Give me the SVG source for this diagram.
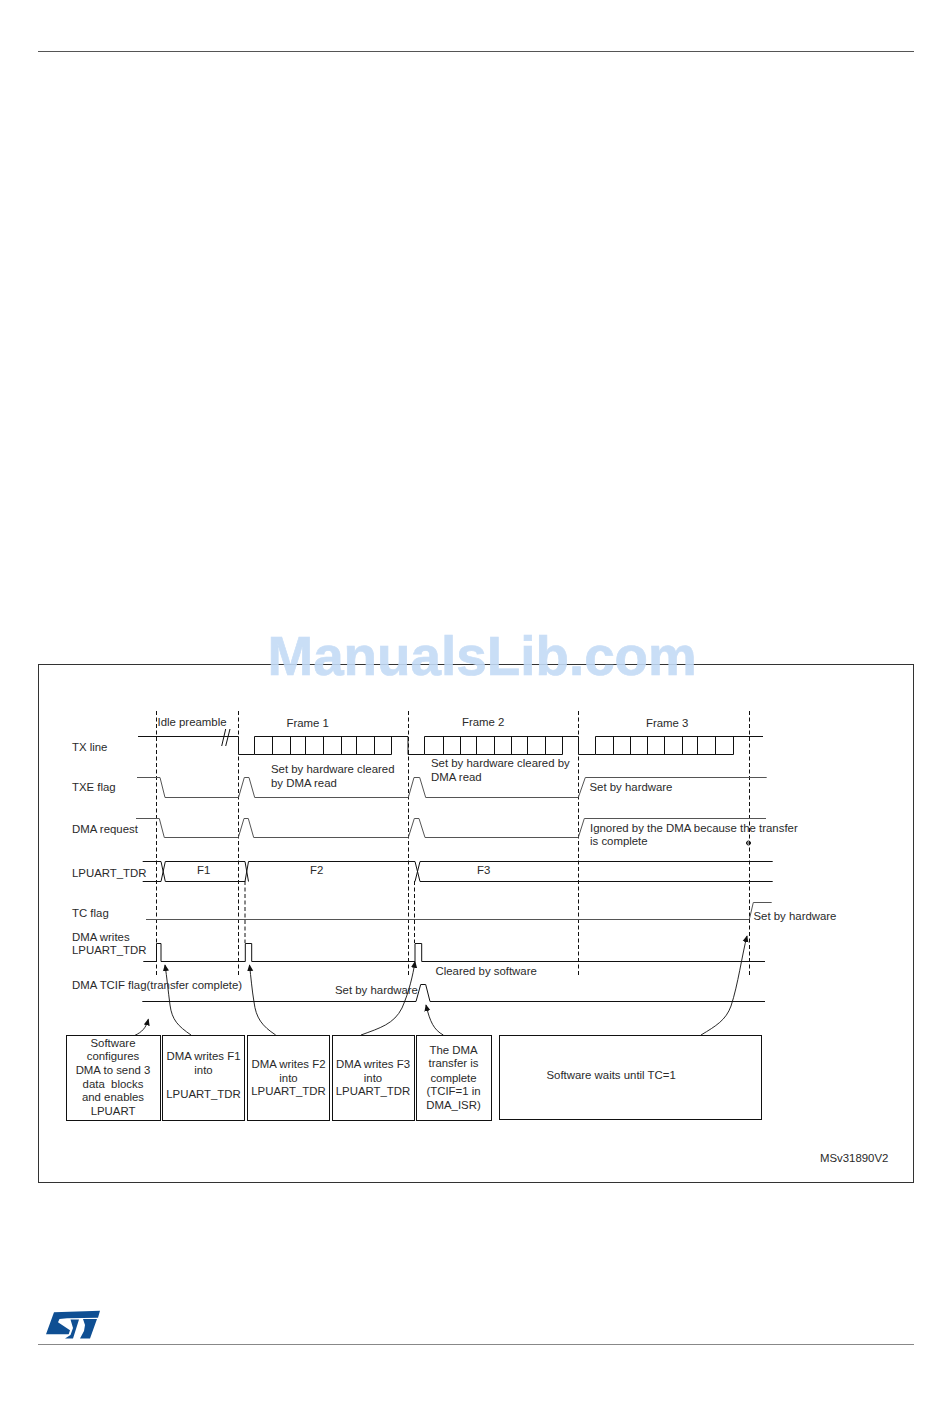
<svg xmlns="http://www.w3.org/2000/svg" width="950" height="1420" viewBox="0 0 950 1420">
<style>
text{font-family:"Liberation Sans",Arial,sans-serif;font-size:11.4px;fill:#2a2a2a}
.m{text-anchor:middle}
.box{fill:#fff;stroke:#111;stroke-width:1}
.sig{fill:none;stroke:#111;stroke-width:1}
.gray{fill:none;stroke:#555;stroke-width:1}
.dash{fill:none;stroke:#111;stroke-width:1;stroke-dasharray:4 2.5}
.arrow{fill:none;stroke:#111;stroke-width:.9;marker-end:url(#a)}
</style>
<defs><marker id="a" viewBox="0 0 8 8" refX="7" refY="4" markerWidth="7" markerHeight="7" orient="auto" markerUnits="userSpaceOnUse"><path d="M0,0.5 L8,4 L0,7.500 Z" fill="#111"/></marker></defs>
<rect width="950" height="1420" fill="#fff"/>
<path d="M38,51.500H914" stroke="#555" fill="none"/>
<path d="M38,1344.500H914" stroke="#888" fill="none"/>
<rect x="38.500" y="664.500" width="875" height="518" fill="none" stroke="#333"/>
<text x="267.500" y="675" style="font-size:54.800px;font-weight:bold;fill:#c4dbf6;stroke:#c4dbf6;stroke-width:.7;opacity:.9">ManualsLib.com</text>
<g id="logo" fill="#0f4f93">
<path d="M54,1312.300 L100,1310.700 L98,1317.700 L67,1318.300 L59.500,1319 L58,1322.300 L70,1330.300 L68.700,1334.300 L46,1334.300 Z"/>
<path d="M70.500,1319.500 L79,1319.500 L73,1338.500 L65,1338.500 L70.500,1335 L73,1328 Z"/>
<path d="M83,1319 L97,1319 L90,1338.500 L80,1338.500 L84,1331 L85,1325 Z"/>
</g>
<g id="connectors">
<g class="dashes">
<path class="dash" d="M156.500,711V975"/>
<path class="dash" d="M238.500,711V975"/>
<path class="dash" d="M245,881V943"/>
<path class="dash" d="M408.500,711V975"/>
<path class="dash" d="M414.500,881V943"/>
<path class="dash" d="M578.500,711V975"/>
<path class="dash" d="M749.500,711V975"/>
</g>
<path class="sig" d="M138,736.500H238.500V754.500H254.500V736.500H408V754.500H424.500V736.500H578.500V754.500H595.500V736.500H763"/>
<path class="sig" d="M254.500,754.500H391.500V736.500M272.500,736.500V754.500M290.500,736.500V754.500M305.500,736.500V754.500M323.500,736.500V754.500M341.500,736.500V754.500M356.500,736.500V754.500M374.500,736.500V754.500"/>
<path class="sig" d="M424.500,754.500H562.500V736.500M443.500,736.500V754.500M460.500,736.500V754.500M476.500,736.500V754.500M494.500,736.500V754.500M511.500,736.500V754.500M527.500,736.500V754.500M545.500,736.500V754.500"/>
<path class="sig" d="M595.500,754.500H733.500V736.500M613.500,736.500V754.500M630.500,736.500V754.500M647.500,736.500V754.500M664.500,736.500V754.500M682.500,736.500V754.500M697.500,736.500V754.500M715.500,736.500V754.500"/>
<path class="sig" d="M221.700,746L225.700,729M225.700,746L230,729"/>
<path class="gray" d="M137,777.500H160L165,797.500H238.500L244.300,777.500H249L254.700,797.500H408.300L414,777.500H419.700L425.700,797.500H578.300L585.300,777.500H766.700"/>
<path class="gray" d="M136,818.500H159.300L164.300,837.500H238.300L244,818.500H248.300L253.700,837.500H408.300L414.300,818.500H419L425,837.500H578.300L584.300,818.500H766"/>
<path class="sig" d="M142.700,861.500H161L165.300,881.500M142.700,881.500H161L165.300,861.500H245L248.500,881.500M165.300,881.500H245L248.500,861.500H415L420,881.500H772.700M415,881.500L420,861.500H772.700"/>
<path class="gray" d="M146,919.500H749.300L753.300,902.500H771.700"/>
<path class="sig" d="M143.300,961.500H156.500V943.500H161V961.500H245.300V943.500H251.700V961.500H415V943.500H421.700V961.500H765"/>
<path class="sig" d="M142.300,1001.500H416L420.700,984.500H425.700L430,1001.500H765"/>
<circle cx="748.500" cy="843" r="2" fill="none" stroke="#111"/>
<path class="sig" d="M746,843H751"/>
<path class="arrow" d="M135,1035.300C142,1032 146,1028 148.300,1019.300"/>
<path class="arrow" d="M191,1035C178,1026 172,1020 170,1005C168,990 167,978 165,965"/>
<path class="arrow" d="M275.700,1035C262,1026 256,1018 254,1002C252,990 251,978 249.500,965"/>
<path class="arrow" d="M361,1035C380,1028 394,1024 402,1008C409,992 413,975 415,961.700"/>
<path class="arrow" d="M443.300,1035C434,1030 430,1022 426,1005"/>
<path class="arrow" d="M701,1035C716,1026 726,1020 731,1006C738,985 742,955 747,936"/>
</g>
<g id="labels">
<text x="157.500" y="726">Idle preamble</text>
<text x="72" y="751">TX line</text>
<text x="72" y="791">TXE flag</text>
<text x="72" y="833">DMA request</text>
<text x="72" y="877">LPUART_TDR</text>
<text x="72" y="917">TC flag</text>
<text x="72" y="941">DMA writes</text>
<text x="72" y="954">LPUART_TDR</text>
<text x="72" y="989">DMA TCIF flag(transfer complete)</text>
<text x="286.500" y="727">Frame 1</text>
<text x="462" y="726">Frame 2</text>
<text x="646" y="727">Frame 3</text>
<text x="271" y="773">Set by hardware cleared</text>
<text x="271" y="787">by DMA read</text>
<text x="431" y="767">Set by hardware cleared by</text>
<text x="431" y="781">DMA read</text>
<text x="589.500" y="791">Set by hardware</text>
<text x="590" y="832">Ignored by the DMA because the transfer</text>
<text x="590" y="845">is complete</text>
<text x="197" y="874">F1</text>
<text x="310" y="874">F2</text>
<text x="477" y="874">F3</text>
<text x="753.500" y="920">Set by hardware</text>
<text x="435.500" y="975">Cleared by software</text>
<text x="335" y="994">Set by hardware</text>
<text x="820" y="1162">MSv31890V2</text>
</g>
<g id="box1"><rect class="box" x="66.500" y="1035.500" width="94" height="85"/>
<text class="m" x="113" y="1047">Software</text><text class="m" x="113" y="1060">configures</text><text class="m" x="113" y="1074">DMA to send 3</text><text class="m" x="113" y="1088" xml:space="preserve">data  blocks</text><text class="m" x="113" y="1101">and enables</text><text class="m" x="113" y="1115">LPUART</text></g>
<g id="box2"><rect class="box" x="162.500" y="1035.500" width="82" height="85"/>
<text class="m" x="203.500" y="1060">DMA writes F1</text><text class="m" x="203.500" y="1074">into</text><text class="m" x="203.500" y="1098">LPUART_TDR</text></g>
<g id="box3"><rect class="box" x="247.500" y="1035.500" width="82" height="85"/>
<text class="m" x="288.500" y="1068">DMA writes F2</text><text class="m" x="288.500" y="1082">into</text><text class="m" x="288.500" y="1095">LPUART_TDR</text></g>
<g id="box4"><rect class="box" x="332.500" y="1035.500" width="82" height="85"/>
<text class="m" x="373" y="1068">DMA writes F3</text><text class="m" x="373" y="1082">into</text><text class="m" x="373" y="1095">LPUART_TDR</text></g>
<g id="box5"><rect class="box" x="416.500" y="1035.500" width="75" height="85"/>
<text class="m" x="453.500" y="1054">The DMA</text><text class="m" x="453.500" y="1067">transfer is</text><text class="m" x="453.500" y="1082">complete</text><text class="m" x="453.500" y="1095">(TCIF=1 in</text><text class="m" x="453.500" y="1109">DMA_ISR)</text></g>
<g id="box6"><rect class="box" x="499.500" y="1035.500" width="262" height="84"/>
<text x="546.500" y="1079">Software waits until TC=1</text></g>
</svg>
